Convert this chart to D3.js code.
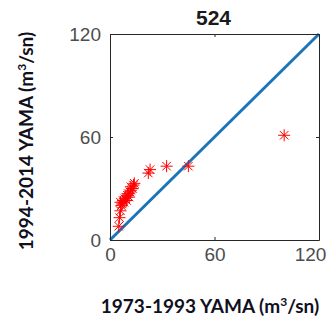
<!DOCTYPE html>
<html>
<head>
<meta charset="utf-8">
<script src="https://cdn.jsdelivr.net/npm/d3@7"></script>
<style>
  html, body { margin: 0; padding: 0; background: #fff; }
  svg { display: block; }
</style>
</head>
<body>
<svg id="chart" width="333" height="320"></svg>
<script>
// Station 524: mean discharge, two periods compared
const title = "524";
const xTicks = [0, 60, 120];
const yTicks = [0, 60, 120];
const period1 = [5, 5.5, 6, 6.5, 6, 7, 7.5, 8, 8.5, 9, 9.5, 10, 10.5, 11, 11.5, 12, 12, 13, 13.5, 14, 22, 23, 32.5, 45, 100];
const period2 = [8, 13, 17, 20, 22, 21, 23, 22, 24, 25, 23, 26, 27, 25, 28, 29, 31, 30, 32, 33, 39, 41, 43, 43, 61];
const oneToOne = [0, 120];

const svg = d3.select("#chart");
const m = { left: 110, top: 34, right: 14, bottom: 80 };
const W = 333, H = 320;
const x = d3.scaleLinear().domain([0, 120]).range([m.left, W - m.right]);
const y = d3.scaleLinear().domain([0, 120]).range([H - m.bottom, m.top]);

const frame = "#262626";
const tickCol = "#4d4d4d";

// 1:1 line
svg.append("line")
  .attr("x1", x(oneToOne[0])).attr("y1", y(oneToOne[0]))
  .attr("x2", x(oneToOne[1])).attr("y2", y(oneToOne[1]))
  .attr("stroke", "#1b75b8").attr("stroke-width", 3);

// asterisk markers
const r = 6;
const star = svg.append("g").attr("stroke", "#ff0000").attr("stroke-width", 1).attr("fill", "none");
period1.forEach((v, i) => {
  const cx = x(v), cy = y(period2[i]);
  const d = r * Math.SQRT1_2;
  star.append("path").attr("d",
    `M${cx - r},${cy}L${cx + r},${cy}M${cx},${cy - r}L${cx},${cy + r}` +
    `M${cx - d},${cy - d}L${cx + d},${cy + d}M${cx - d},${cy + d}L${cx + d},${cy - d}`);
});

// axes with inward ticks
const fontTick = "19px 'Liberation Sans', Arial, sans-serif";
svg.append("g").attr("transform", `translate(0,${y(0)})`)
  .call(d3.axisBottom(x).tickValues(xTicks).tickSizeInner(-3).tickSizeOuter(0).tickPadding(8))
  .call(g => g.selectAll("text").style("font", fontTick).attr("fill", tickCol))
  .call(g => g.selectAll(".tick:last-of-type text").attr("dx", -9))
  .call(g => g.selectAll("line,path").attr("stroke", frame));
svg.append("g").attr("transform", `translate(0,${y(120)})`)
  .call(d3.axisTop(x).tickValues(xTicks).tickSizeInner(-3).tickSizeOuter(0).tickFormat(""))
  .call(g => g.selectAll("line,path").attr("stroke", frame));
svg.append("g").attr("transform", `translate(${x(0)},0)`)
  .call(d3.axisLeft(y).tickValues(yTicks).tickSizeInner(-3).tickSizeOuter(0).tickPadding(9))
  .call(g => g.selectAll("text").style("font", fontTick).attr("fill", tickCol))
  .call(g => g.selectAll("line,path").attr("stroke", frame));
svg.append("g").attr("transform", `translate(${x(120)},0)`)
  .call(d3.axisRight(y).tickValues(yTicks).tickSizeInner(-3).tickSizeOuter(0).tickFormat(""))
  .call(g => g.selectAll("line,path").attr("stroke", frame));

// title
svg.append("text").attr("x", (x(0) + x(120)) / 2 - 1).attr("y", 25)
  .attr("text-anchor", "middle")
  .style("font", "bold 21px 'Liberation Sans', Arial, sans-serif")
  .attr("fill", "#1a1a1a").text(title);

// axis titles
const labFont = "bold 19px Lato, 'Open Sans', sans-serif";
function label(sel, pre) {
  sel.append("tspan").text(pre + " YAMA (m");
  sel.append("tspan").attr("dy", -7).style("font-size", "12px").text("3");
  sel.append("tspan").attr("dy", 7).text("/sn)");
}
const xl = svg.append("text").attr("x", 210).attr("y", 313)
  .attr("text-anchor", "middle").style("font", labFont).attr("fill", "#10101e");
label(xl, "1973-1993");
const yl = svg.append("text").attr("transform", "translate(33,141) rotate(-90)")
  .attr("text-anchor", "middle").style("font", labFont).attr("fill", "#10101e");
label(yl, "1994-2014");
</script>
</body>
</html>
